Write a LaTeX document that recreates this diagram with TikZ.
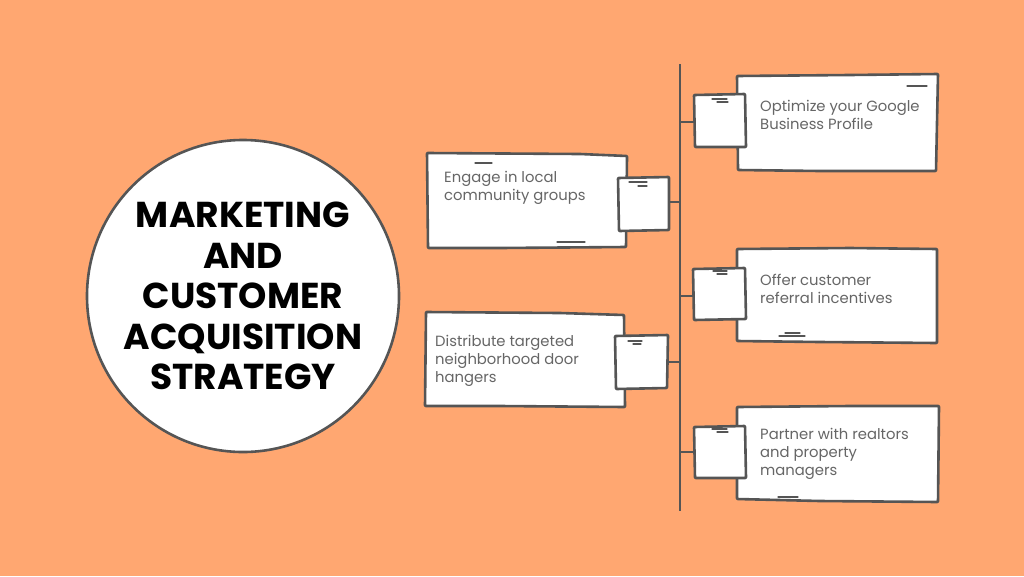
\documentclass[tikz,border=0pt]{standalone}
\usepackage{fontspec}
\setmainfont{Poppins}
\begin{document}
\definecolor{bg}{HTML}{FFA771}
\definecolor{ink}{HTML}{555555}
\definecolor{txt}{HTML}{666666}
\begin{tikzpicture}[x=1pt,y=-1pt,
  sketch/.style={draw=ink, line width=2.6pt, fill=white, line join=round, rounded corners=0.8pt},
  lbl/.style={text=txt, font=\fontsize{14.8}{18}\selectfont, align=left, anchor=base west, inner sep=0pt},
  dashmark/.style={draw=ink, line width=1.1pt, line cap=round},
  spine/.style={draw=ink, line width=2.6pt},
  link/.style={draw=ink, line width=2.4pt},
  title/.style={circle, draw=ink, line width=2.6pt, fill=white, minimum size=312pt, inner sep=0pt,
    font=\fontsize{36}{40.5}\selectfont\bfseries, align=center, text=black}]
\fill[bg] (0,0) rectangle (1024,576);
\useasboundingbox (0,0) rectangle (1024,576);

% central circle
\node[title] (c) at (243,296) {MARKETING\\AND\\CUSTOMER\\ACQUISITION\\STRATEGY};

% spine
\coordinate (top) at (680,64);
\coordinate (bot) at (680,511);
\draw[spine] (top) -- (bot);

% junctions on spine
\coordinate (j1) at (680,122);
\coordinate (j2) at (680,202);
\coordinate (j3) at (680,296);
\coordinate (j4) at (680,362);
\coordinate (j5) at (680,452);

% ---- Left box 1
\draw[sketch] (427,153) -- (580,154) -- (627,156) -- (626,247) -- (500,248) -- (428,248) -- cycle;
\draw[dashmark] (475,163) -- (492,163);
\draw[dashmark] (557,242) -- (585,242);
\node[lbl] (t2) at (444,200) {Engage in local\\community groups};
\draw[sketch] (618,178) -- (669,177) -- (669,230) -- (619,231) -- cycle;
\node[inner sep=0pt, minimum width=51pt, minimum height=53pt] (s2) at (644,202) {};
\draw[dashmark] (629,182) -- (647,182);
\draw[dashmark] (638,186) -- (647,186);
\draw[link] (s2.east) -- (j2);

% ---- Left box 2
\draw[sketch] (426,312) -- (560,313) -- (624,315) -- (625,407) -- (500,406) -- (425,406) -- cycle;
\node[lbl] (t4) at (435,382) {Distribute targeted\\neighborhood door\\hangers};
\draw[sketch] (615,336) -- (668,335) -- (667,388) -- (616,389) -- cycle;
\node[inner sep=0pt, minimum width=52pt, minimum height=53pt] (s4) at (642,362) {};
\draw[dashmark] (628,341) -- (642,341);
\draw[dashmark] (633,344) -- (641,344);
\draw[link] (s4.east) -- (j4);

% ---- Right box 1
\draw[sketch] (737,76) -- (850,75) -- (938,74) -- (936,171) -- (820,171) -- (738,170) -- cycle;
\draw[dashmark] (907,86) -- (927,86);
\node[lbl] (t1) at (760,129) {Optimize your Google\\Business Profile};
\draw[sketch] (694,95) -- (745,94) -- (746,147) -- (695,147) -- cycle;
\node[inner sep=0pt, minimum width=52pt, minimum height=53pt] (s1) at (720,122) {};
\draw[dashmark] (712,99) -- (727,99);
\draw[dashmark] (717,102) -- (728,102);
\draw[link] (j1) -- (s1.west);

% ---- Right box 2
\draw[sketch] (737,249) -- (850,248) -- (937,249) -- (937,343) -- (820,342) -- (737,341) -- cycle;
\draw[dashmark] (785,333) -- (800,333);
\draw[dashmark] (779,336) -- (805,336);
\node[lbl] (t3) at (760,303) {Offer customer\\referral incentives};
\draw[sketch] (693,269) -- (745,268) -- (746,319) -- (694,320) -- cycle;
\node[inner sep=0pt, minimum width=52pt, minimum height=51pt] (s3) at (719,296) {};
\draw[dashmark] (713,271) -- (727,271);
\draw[dashmark] (717,274) -- (727,274);
\draw[link] (j3) -- (s3.west);

% ---- Right box 3
\draw[sketch] (737,407) -- (850,406) -- (939,406) -- (938,502) -- (820,501) -- (737,499) -- cycle;
\draw[dashmark] (778,497) -- (798,497);
\node[lbl] (t5) at (760,475) {Partner with realtors\\and property\\managers};
\draw[sketch] (694,427) -- (745,426) -- (746,478) -- (695,478) -- cycle;
\node[inner sep=0pt, minimum width=52pt, minimum height=52pt] (s5) at (720,452) {};
\draw[dashmark] (712,429) -- (727,429);
\draw[dashmark] (717,432) -- (728,432);
\draw[link] (j5) -- (s5.west);
\end{tikzpicture}
\end{document}
